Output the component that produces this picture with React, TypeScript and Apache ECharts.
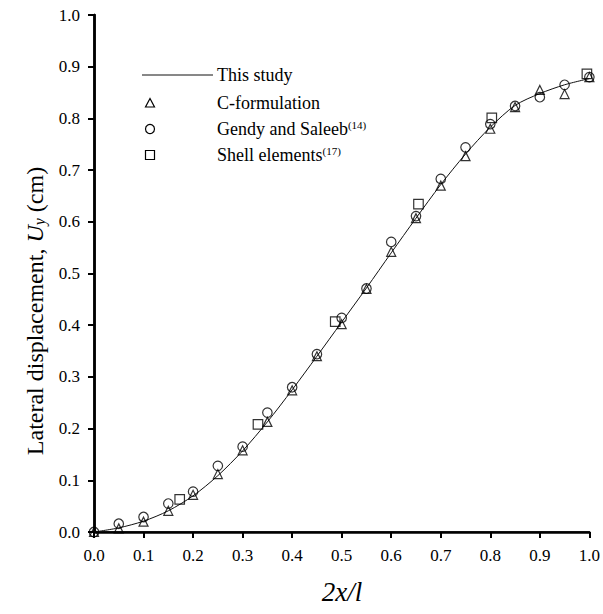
import React, { useEffect, useRef } from "react";
import * as echarts from "echarts";

const stepX = [0, 0.05, 0.1, 0.15, 0.2, 0.25, 0.3, 0.35, 0.4, 0.45, 0.5, 0.55, 0.6, 0.65, 0.7, 0.75, 0.8, 0.85, 0.9, 0.95, 1.0];
const thisStudyY = [0, 0.008, 0.021, 0.041, 0.07, 0.109, 0.157, 0.213, 0.275, 0.34, 0.406, 0.472, 0.54, 0.607, 0.672, 0.731, 0.783, 0.825, 0.848, 0.865, 0.877];
const cFormulationY = [0, 0.007, 0.02, 0.041, 0.072, 0.112, 0.158, 0.213, 0.274, 0.34, 0.402, 0.47, 0.542, 0.607, 0.67, 0.727, 0.78, 0.822, 0.855, 0.847, 0.88];
const gendyY = [0, 0.016, 0.029, 0.055, 0.078, 0.128, 0.165, 0.231, 0.28, 0.344, 0.414, 0.471, 0.561, 0.611, 0.683, 0.744, 0.789, 0.824, 0.841, 0.865, 0.88];
const shellX = [0.173, 0.331, 0.487, 0.655, 0.803, 0.995];
const shellY = [0.063, 0.208, 0.407, 0.634, 0.801, 0.886];

const SERIF = "'Liberation Serif', 'Times New Roman', serif";

export default function App() {
  const ref = useRef<HTMLDivElement>(null);
  useEffect(() => {
    if (!ref.current) return;
    const chart = echarts.init(ref.current, undefined, { renderer: "svg" });
    const hollow = { color: "rgba(0,0,0,0)", borderColor: "#000", borderWidth: 1.2 };
    const lx = 150;
    const tx = 217;
    const rows = [75, 103, 129, 155];
    chart.setOption({
      animation: false,
      backgroundColor: "#fff",
      grid: { left: 94, right: 12, top: 15, bottom: 82 },
      xAxis: [
        {
          type: "value",
          min: 0,
          max: 1,
          interval: 0.1,
          position: "bottom",
          axisLine: { lineStyle: { color: "#000", width: 2.5 } },
          axisTick: { show: true, inside: false, length: 6, lineStyle: { color: "#000", width: 2 } },
          axisLabel: { formatter: (v: number) => v.toFixed(1), fontSize: 17, color: "#000", fontFamily: SERIF, margin: 15 },
          splitLine: { show: false },
        },
        {
          type: "value",
          min: 0,
          max: 1,
          position: "top",
          axisLine: { lineStyle: { color: "#000", width: 1.5 } },
          axisTick: { show: false },
          axisLabel: { show: false },
          splitLine: { show: false },
        },
      ],
      yAxis: [
        {
          type: "value",
          min: 0,
          max: 1,
          interval: 0.1,
          position: "left",
          axisLine: { show: true, lineStyle: { color: "#000", width: 2.5 } },
          axisTick: { show: true, inside: false, length: 6, lineStyle: { color: "#000", width: 2 } },
          axisLabel: { formatter: (v: number) => v.toFixed(1), fontSize: 17, color: "#000", fontFamily: SERIF, margin: 14 },
          splitLine: { show: false },
        },
        {
          type: "value",
          min: 0,
          max: 1,
          position: "right",
          axisLine: { show: true, lineStyle: { color: "#000", width: 2.5 } },
          axisTick: { show: false },
          axisLabel: { show: false },
          splitLine: { show: false },
        },
      ],
      series: [
        {
          name: "This study",
          type: "line",
          data: stepX.map((x, i) => [x, thisStudyY[i]]),
          smooth: 0.3,
          showSymbol: false,
          lineStyle: { color: "#111", width: 1 },
          z: 2,
        },
        {
          name: "C-formulation",
          type: "scatter",
          symbol: "triangle",
          symbolSize: 9,
          data: stepX.map((x, i) => [x, cFormulationY[i]]),
          itemStyle: hollow,
          z: 3,
        },
        {
          name: "Gendy and Saleeb",
          type: "scatter",
          symbol: "circle",
          symbolSize: 9.5,
          data: stepX.map((x, i) => [x, gendyY[i]]),
          itemStyle: hollow,
          z: 3,
        },
        {
          name: "Shell elements",
          type: "scatter",
          symbol: "rect",
          symbolSize: 9.5,
          data: shellX.map((x, i) => [x, shellY[i]]),
          itemStyle: hollow,
          z: 3,
        },
      ],
      graphic: [
        { type: "line", shape: { x1: 142, y1: rows[0], x2: 213, y2: rows[0] }, style: { stroke: "#111", lineWidth: 1 } },
        {
          type: "polygon",
          shape: { points: [[lx, rows[1] - 4.5], [lx - 4.5, rows[1] + 4], [lx + 4.5, rows[1] + 4]] },
          style: { fill: "none", stroke: "#000", lineWidth: 1.2 },
        },
        { type: "circle", shape: { cx: lx, cy: rows[2], r: 4.5 }, style: { fill: "none", stroke: "#000", lineWidth: 1.2 } },
        { type: "rect", shape: { x: lx - 4.5, y: rows[3] - 4.5, width: 9, height: 9 }, style: { fill: "none", stroke: "#000", lineWidth: 1.2 } },
        { type: "text", x: tx, y: rows[0], style: { text: "This study", font: `18px ${SERIF}`, fill: "#000", verticalAlign: "middle" } },
        { type: "text", x: tx, y: rows[1], style: { text: "C-formulation", font: `18px ${SERIF}`, fill: "#000", verticalAlign: "middle" } },
        {
          type: "text",
          x: tx,
          y: rows[2],
          style: {
            text: "{a|Gendy and Saleeb}{s|(14)}",
            verticalAlign: "middle",
            rich: {
              a: { fontSize: 18, fontFamily: SERIF, color: "#000", lineHeight: 20 },
              s: { fontSize: 11, fontFamily: SERIF, color: "#000", padding: [0, 0, 9, 0] },
            },
          },
        },
        {
          type: "text",
          x: tx,
          y: rows[3],
          style: {
            text: "{a|Shell elements}{s|(17)}",
            verticalAlign: "middle",
            rich: {
              a: { fontSize: 18, fontFamily: SERIF, color: "#000", lineHeight: 20 },
              s: { fontSize: 11, fontFamily: SERIF, color: "#000", padding: [0, 0, 9, 0] },
            },
          },
        },
        {
          type: "text",
          x: 35,
          y: 311,
          rotation: Math.PI / 2,
          style: {
            text: "{a|Lateral displacement, }{i|U}{sub|y}{a| (cm)}",
            align: "center",
            verticalAlign: "middle",
            rich: {
              a: { fontSize: 24, fontFamily: SERIF, color: "#000", lineHeight: 28 },
              i: { fontSize: 24, fontFamily: SERIF, fontStyle: "italic", color: "#000", lineHeight: 28 },
              sub: { fontSize: 16, fontFamily: SERIF, fontStyle: "italic", color: "#000", padding: [9, 0, 0, 0] },
            },
          },
        },
        {
          type: "text",
          x: 342,
          y: 592,
          style: {
            text: "2x/l",
            font: `italic 27px ${SERIF}`,
            fill: "#000",
            align: "center",
            verticalAlign: "middle",
          },
        },
      ],
    });
    return () => chart.dispose();
  }, []);
  return <div ref={ref} style={{ position: "fixed", left: 0, top: 0, width: 603, height: 614 }} />;
}
